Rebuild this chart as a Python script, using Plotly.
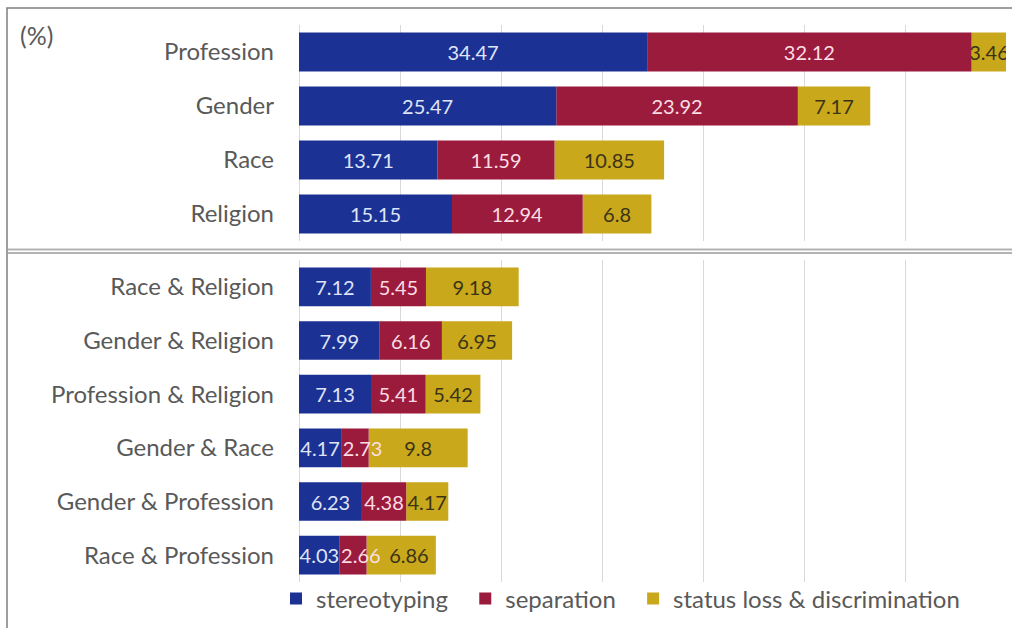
import plotly.graph_objects as go

top_cats = ["Profession", "Gender", "Race", "Religion"]
top_stereo = [34.47, 25.47, 13.71, 15.15]
top_sep = [32.12, 23.92, 11.59, 12.94]
top_status = [3.46, 7.17, 10.85, 6.8]

bot_cats = ["Race & Religion", "Gender & Religion", "Profession & Religion",
            "Gender & Race", "Gender & Profession", "Race & Profession"]
bot_stereo = [7.12, 7.99, 7.13, 4.17, 6.23, 4.03]
bot_sep = [5.45, 6.16, 5.41, 2.73, 4.38, 2.66]
bot_status = [9.18, 6.95, 5.42, 9.8, 4.17, 6.86]

series_names = ["stereotyping", "separation", "status loss & discrimination"]
colors = ["#1c3194", "#9b1b3c", "#c9a81c"]
text_colors = ["#dfe4f6", "#fbdde4", "#3b3318"]
legend_pad = [2, 2, 0]

W, H = 1012, 628
L, R, T, B = 299, 6, 25, 46
PW = W - L - R
PH = H - T - B


def px_x(p):
    return (p - L) / PW


def px_y(p):
    return (H - B - p) / PH


def labels(vals, si):
    out = []
    for i, v in enumerate(vals[si]):
        pad = 0
        # very narrow separation segments: the label spills to the right, as in the original
        if si == 1 and v < 3:
            pad = 3
        # the following label is nudged right to make room, as in the original
        if si == 2 and vals[1][i] < 3 and v < 8:
            pad = 3
        out.append("\u00a0" * pad + str(v))
    return out


FONT = "Lato"

fig = go.Figure()
groups = [
    (top_cats, [top_stereo, top_sep, top_status], "x", "y"),
    (bot_cats, [bot_stereo, bot_sep, bot_status], "x2", "y2"),
]
for gi, (cats, vals, xa, ya) in enumerate(groups):
    bases = [
        [0] * len(cats),
        list(vals[0]),
        [a + b for a, b in zip(vals[0], vals[1])],
    ]
    # draw last segment first so that overflowing labels of earlier segments stay on top
    for si in (2, 1, 0):
        name = series_names[si]
        fig.add_trace(go.Bar(
            y=cats, x=vals[si], base=bases[si], orientation="h",
            name=name + "\u00a0" * legend_pad[si],
            marker=dict(color=colors[si], line=dict(width=0)),
            text=labels(vals, si),
            textposition="inside", insidetextanchor="middle", textangle=0,
            textfont=dict(family=FONT, size=20, color=text_colors[si]),
            constraintext="none",
            showlegend=(gi == 1), legendgroup=name,
            xaxis=xa, yaxis=ya,
        ))

ax_common = dict(range=[0, 70], dtick=10, showticklabels=False,
                 showgrid=True, gridcolor="#d9d9d9", gridwidth=1,
                 zeroline=True, zerolinecolor="#d9d9d9", zerolinewidth=1,
                 showline=False, ticks="")
yax_common = dict(autorange="reversed", showgrid=False, showline=False,
                  ticks="", ticklabelstandoff=24,
                  tickfont=dict(family=FONT, size=24, color="#595959"))

fig.update_layout(
    width=W, height=H,
    margin=dict(l=L, r=R, t=T, b=B),
    paper_bgcolor="white", plot_bgcolor="white",
    barmode="overlay", bargap=0.28,
    uniformtext=dict(minsize=20, mode="show"),
    xaxis=dict(domain=[0, 1], anchor="y", **ax_common),
    xaxis2=dict(domain=[0, 1], anchor="y2", **ax_common),
    yaxis=dict(domain=[px_y(241), 1], anchor="x", **yax_common),
    yaxis2=dict(domain=[0, px_y(260)], anchor="x2", **yax_common),
    legend=dict(orientation="h", x=px_x(276), xanchor="left",
                y=px_y(599), yanchor="middle",
                font=dict(family=FONT, size=24, color="#595959"),
                traceorder="reversed", itemwidth=30,
                bgcolor="rgba(0,0,0,0)"),
    showlegend=True,
)

# double separator line
for yy in (249.5, 253):
    fig.add_shape(type="line", xref="paper", yref="paper",
                  x0=px_x(8), x1=px_x(1020), y0=px_y(yy), y1=px_y(yy),
                  line=dict(color="#b3b3b3", width=2))

# outer frame
fig.add_shape(type="rect", xref="paper", yref="paper",
              x0=px_x(7), x1=px_x(1030), y0=px_y(640), y1=px_y(8),
              line=dict(color="#7f7f7f", width=1.5))

fig.add_annotation(text="(%)", xref="paper", yref="paper",
                   x=px_x(18), y=px_y(35), xanchor="left", yanchor="middle",
                   showarrow=False,
                   font=dict(family=FONT, size=25, color="#595959"))

fig.write_html("out.html",
               config={"displayModeBar": False},
               post_script="document.body.style.margin='0';"
                           "document.body.style.overflow='hidden';")
